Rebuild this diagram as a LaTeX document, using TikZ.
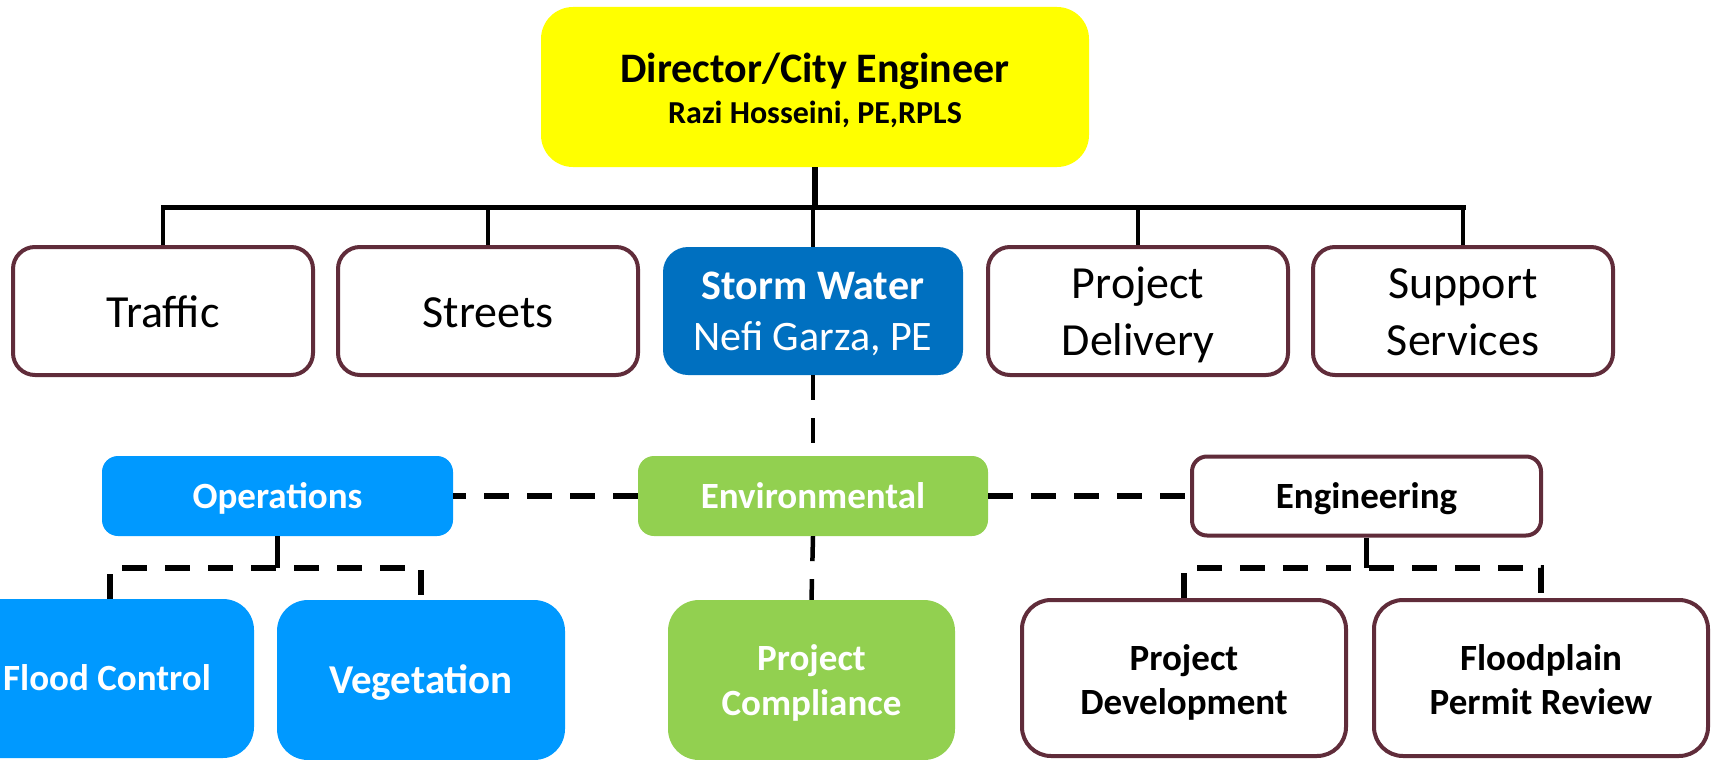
\documentclass[tikz,border=0pt]{standalone}
\usepackage{fontspec}
\setmainfont{Carlito}
\definecolor{maroon}{RGB}{96,44,58}
\definecolor{dirY}{RGB}{255,255,0}
\definecolor{stormB}{RGB}{0,112,192}
\definecolor{opsB}{RGB}{0,153,255}
\definecolor{envG}{RGB}{146,208,80}
\newcommand{\mytop}[1]{\rule{0pt}{#1pt}}
\newcommand{\mybot}{\rule[-12pt]{0pt}{12pt}}
\begin{document}
\begin{tikzpicture}[x=1pt,y=-1pt,
  base/.style={rectangle, inner sep=0pt, align=center, anchor=center},
  wbox/.style={base, draw=maroon, line width=4pt, fill=white},
  fbox/.style={base, draw=none},
  f46/.style={font=\fontsize{46}{57}\selectfont},
  f42/.style={font=\fontsize{42}{51}\selectfont},
  f37/.style={font=\fontsize{37}{44}\selectfont\bfseries},
  solidc/.style={line width=5pt, black},
  dropc/.style={line width=4.5pt, black},
  dashc/.style={line width=5.5pt, black, dash pattern=on 25pt off 18pt}
]
\useasboundingbox (0,0) rectangle (1711,760);
\clip (0,0) rectangle (1711,760);
\fill[white] (0,0) rectangle (1711,760);

% top
\node[fbox, fill=dirY, rounded corners=32pt, minimum width=548pt, minimum height=160pt,
  font=\fontsize{32}{41}\selectfont\bfseries] (dir) at (815,87)
  {\mytop{43}{\fontsize{42}{41}\selectfont Director/City Engineer}\\Razi Hosseini, PE,RPLS\mybot};

% second row
\node[wbox, rounded corners=22pt, minimum width=300pt, minimum height=128pt, f46] (traffic) at (163,311) {\mytop{44}Traffic\mybot};
\node[wbox, rounded corners=22pt, minimum width=300pt, minimum height=128pt, f46] (streets) at (488,311) {\mytop{44}Streets\mybot};
\node[fbox, fill=stormB, text=white, rounded corners=25pt, minimum width=300pt, minimum height=128pt, f42] (storm) at (813,311) {\mytop{39}\textbf{Storm Water}\\Nefi Garza, PE\mybot};
\node[wbox, rounded corners=22pt, minimum width=300pt, minimum height=128pt, f46] (delivery) at (1138,311) {\mytop{43}Project\\Delivery\mybot};
\node[wbox, rounded corners=22pt, minimum width=300pt, minimum height=128pt, f46] (support) at (1463,311) {\mytop{43}Support\\Services\mybot};

% third row
\node[fbox, fill=opsB, text=white, rounded corners=16pt, minimum width=351pt, minimum height=80pt, f37] (ops) at (277.5,496) {\mytop{36}Operations\mybot};
\node[fbox, fill=envG, text=white, rounded corners=16pt, minimum width=350pt, minimum height=80pt, f37] (env) at (813,496) {\mytop{36}Environmental\mybot};
\node[wbox, rounded corners=15pt, minimum width=349pt, minimum height=79pt, f37] (eng) at (1366.5,496) {\mytop{36}Engineering\mybot};

% fourth row
\node[fbox, fill=opsB, text=white, rounded corners=31pt, minimum width=294pt, minimum height=159pt, f37] (flood) at (107,678.5) {\mytop{35}Flood Control\mybot};
\node[fbox, fill=opsB, text=white, rounded corners=31pt, minimum width=288pt, minimum height=160pt,
  font=\fontsize{41}{48}\selectfont\bfseries] (veg) at (421,680) {\mytop{38}Vegetation\mybot};
\node[fbox, fill=envG, text=white, rounded corners=31pt, minimum width=287pt, minimum height=160pt,
  font=\fontsize{37}{45}\selectfont\bfseries] (comp) at (811.5,680) {\mytop{37}Project\\Compliance\mybot};
\node[wbox, rounded corners=29pt, minimum width=324pt, minimum height=156pt, f37] (dev) at (1184,678) {\mytop{40}Project\\Development\mybot};
\node[wbox, rounded corners=29pt, minimum width=334pt, minimum height=156pt, f37] (permit) at (1541,678) {\mytop{40}Floodplain\\Permit Review\mybot};

% top connectors
\coordinate (busL) at (163,207);
\coordinate (busR) at (1463,207);
\draw[line width=6pt] (dir.south) -- (dir.south |- busL);
\draw[solidc, line cap=rect] (busL) -- (busR);
\draw[dropc] (traffic.north) -- (traffic.north |- busL);
\draw[dropc] (streets.north) -- (streets.north |- busL);
\draw[dropc] (storm.north) -- (storm.north |- busL);
\draw[dropc] (delivery.north) -- (delivery.north |- busL);
\draw[dropc] (support.north) -- (support.north |- busL);

% storm water to environmental
\draw[dashc, line width=4.5pt] (storm.south) -- (env.north);
\draw[dashc] (env.west) -- (ops.east);
\draw[dashc] (env.east) -- (eng.west);

% operations branch
\coordinate (opsbar) at (277.5,568);
\draw[dropc] (ops.south) -- (opsbar);
\draw[dashc] (110,599) -- (110,568) -- (veg.north |- opsbar) -- (veg.north);

% environmental to compliance
\draw[dashc, line width=4.5pt] (env.south) -- (comp.north);

% engineering branch
\coordinate (engbar) at (1366.5,568);
\draw[dropc] (eng.south) -- (engbar);
\draw[dashc] (dev.north) -- (dev.north |- engbar) -- (permit.north |- engbar) -- (permit.north);
\end{tikzpicture}
\end{document}
